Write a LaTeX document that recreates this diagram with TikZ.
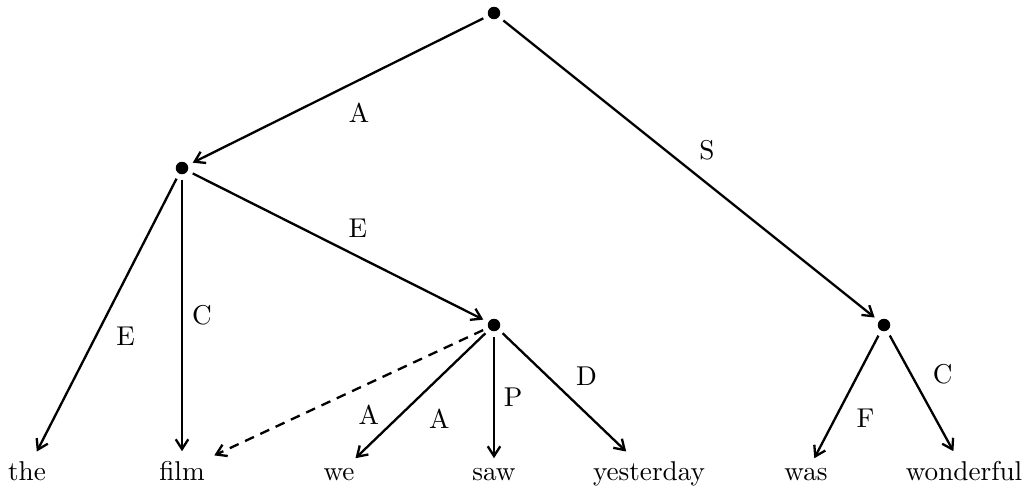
\documentclass[tikz,border=0pt]{standalone}
\usetikzlibrary{arrows.meta}
\begin{document}
\begin{tikzpicture}[x=0.3677pt,y=-0.3677pt,
  dot/.style={circle,fill,inner sep=0pt,minimum size=4.6pt,outer sep=2.1pt},
  leaf/.style={anchor=base,inner sep=0.3333em},
  edge/.style={-{Straight Barb[length=3.6pt,width=4.6pt]},line width=0.85pt},
  lbl/.style={inner sep=0pt}]
\useasboundingbox (0,0) rectangle (1030,489);
% inner nodes
\node[dot] (r) at (494,13) {};
\node[dot] (a) at (182,168) {};
\node[dot] (m) at (494,325) {};
\node[dot] (s) at (884,325) {};
% leaves
\node[leaf] (the) at (27,480) {the};
\node[leaf] (film) at (182,480) {film};
\node[leaf] (we) at (339,480) {we};
\node[leaf] (saw) at (494,480) {saw};
\node[leaf] (yest) at (649,480) {yesterday};
\node[leaf] (was) at (806,480) {was};
\node[leaf] (won) at (964,480) {wonderful};
% edges
\draw[edge] (r) -- (a) node[lbl,midway,shift={(21,22.5)}] {A};
\draw[edge] (r) -- (s) node[lbl,midway,shift={(18,-19)}] {S};
\draw[edge] (a) -- (m) node[lbl,midway,shift={(20,-18.5)}] {E};
\draw[edge] (a) -- (the) node[lbl,midway,shift={(19,21)}] {E};
\draw[edge] (a) -- (film) node[lbl,midway,shift={(20,0)}] {C};
\draw[edge,dash pattern=on 3.6pt off 2.6pt] (m) -- (film) node[lbl,midway,shift={(20,22.5)}] {A};
\draw[edge] (m) -- (we) node[lbl,midway,shift={(19,23)}] {A};
\draw[edge] (m) -- (saw) node[lbl,midway,shift={(19,0)}] {P};
\draw[edge] (m) -- (yest) node[lbl,midway,shift={(22,-16.5)}] {D};
\draw[edge] (s) -- (was) node[lbl,midway,shift={(19,21)}] {F};
\draw[edge] (s) -- (won) node[lbl,midway,shift={(21,-19)}] {C};
\end{tikzpicture}
\end{document}
